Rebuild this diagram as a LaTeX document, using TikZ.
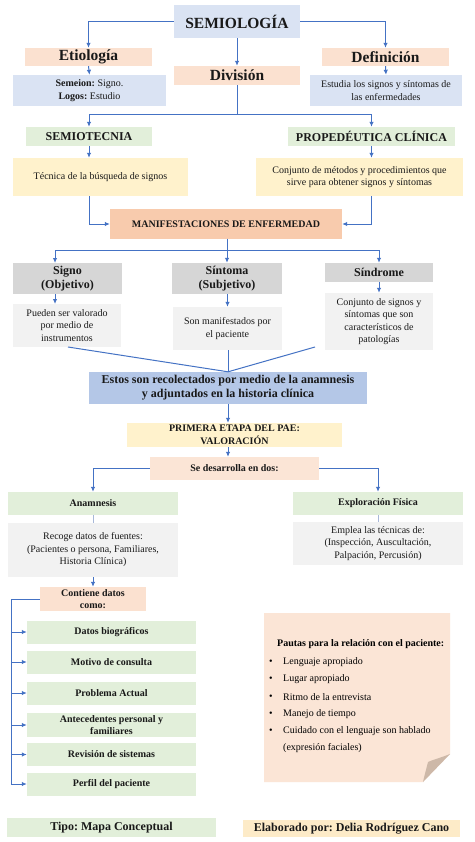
\documentclass[tikz,border=0pt]{standalone}
\usepackage{fontspec}
\setmainfont{Liberation Serif}
\usetikzlibrary{arrows.meta,calc}
\frenchspacing
\definecolor{cblue}{HTML}{DAE3F3}
\definecolor{cpeach}{HTML}{FBE1D0}
\definecolor{cpeachl}{HTML}{FBE5D6}
\definecolor{cgreen}{HTML}{E2EFDA}
\definecolor{cyellow}{HTML}{FFF2CC}
\definecolor{csalmon}{HTML}{F8CBAD}
\definecolor{cgray}{HTML}{D6D6D6}
\definecolor{cgrayl}{HTML}{F2F2F2}
\definecolor{cbluem}{HTML}{B4C7E7}
\definecolor{corange}{HTML}{FDEBC8}
\definecolor{arrowc}{HTML}{4472C4}
\definecolor{tickc}{HTML}{A8B8D8}
\definecolor{foldc}{HTML}{CDB8A8}
\tikzset{
  box/.style={inner sep=1pt, align=center, text=black!90},
  big/.style={font=\fontsize{15.5}{18}\selectfont\bfseries},
  mid/.style={font=\fontsize{12}{14}\selectfont\bfseries},
  sml/.style={font=\fontsize{10}{12.5}\selectfont\bfseries},
  txt/.style={font=\fontsize{10}{12.5}\selectfont},
  conn/.style={draw=arrowc, line width=1pt, -{Latex[length=5pt,width=4.5pt]}},
  plain/.style={draw=arrowc, line width=1pt},
  tick/.style={draw=tickc, line width=0.9pt},
}
\begin{document}
\begin{tikzpicture}[x=1pt,y=-1pt]
\useasboundingbox (0,0) rectangle (474,842);
\fill[white] (0,0) rectangle (474,842);

% top level
\node[box,big,fill=cblue,minimum width=126pt,minimum height=33pt] (sem) at (237,21.5) {SEMIOLOG\'IA};
\node[box,big,fill=cpeach,minimum width=127pt,minimum height=18pt] (eti) at (88.5,57) {Etiolog\'ia};
\node[box,big,fill=cpeach,minimum width=126pt,minimum height=19pt] (div) at (237,75.5) {Divisi\'on};
\node[box,big,fill=cpeach,minimum width=127pt,minimum height=18pt] (def) at (385.5,57) {Definici\'on};
\node[box,txt,fill=cblue,minimum width=153pt,minimum height=31pt] (seme) at (89.5,90.5) {\textbf{Semeion:} Signo.\\\textbf{Logos:} Estudio};
\node[box,txt,fill=cblue,minimum width=152pt,minimum height=31pt] (estu) at (386,90.5) {Estudia los signos y s\'intomas de\\las enfermedades};

\draw[conn] (sem.west) -| (eti.north);
\draw[conn] (sem.east) -| (def.north);
\draw[conn] (sem.south) -- (div.north);
\draw[conn] (eti.south) -- (seme.north);
\draw[conn] (def.south) -- (estu.north);

% division
\node[box,mid,fill=cgreen,minimum width=126pt,minimum height=19pt] (stec) at (89,136.5) {SEMIOTECNIA};
\node[box,mid,fill=cgreen,minimum width=167pt,minimum height=19pt] (prop) at (371.5,136.5) {PROPED\'EUTICA CL\'INICA};
\coordinate (dj) at (237,115);
\draw[plain] (div.south) -- (dj);
\draw[conn] (dj) -| (stec.north);
\draw[conn] (dj) -| (prop.north);

\node[box,txt,fill=cyellow,minimum width=175pt,minimum height=38pt] (tec) at (100.5,177) {T\'ecnica de la b\'usqueda de signos};
\node[box,txt,fill=cyellow,minimum width=207pt,minimum height=38pt] (conj) at (359.5,177) {Conjunto de m\'etodos y procedimientos que\\sirve para obtener signos y s\'intomas};
\draw[conn] (stec.south) -- (stec.south |- tec.north);
\draw[conn] (prop.south) -- (prop.south |- conj.north);

\node[box,sml,fill=csalmon,minimum width=232pt,minimum height=29pt] (man) at (226,224) {MANIFESTACIONES DE ENFERMEDAD};
\draw[conn] (stec.south |- tec.south) |- (man.west);
\draw[conn] (prop.south |- conj.south) |- (man.east);

% signo / sintoma / sindrome
\node[box,mid,fill=cgray,minimum width=109pt,minimum height=31pt] (sig) at (67.5,278.5) {Signo\\(Objetivo)};
\node[box,mid,fill=cgray,minimum width=110pt,minimum height=31pt] (sin) at (227,278.5) {S\'intoma\\(Subjetivo)};
\node[box,mid,fill=cgray,minimum width=108pt,minimum height=19pt] (snd) at (379,272.5) {S\'indrome};
\coordinate (mj) at (227,250);
\draw[plain] (man.south -| mj) -- (mj);
\draw[conn] (mj) -- (sin.north);
\draw[conn] (mj) -| (55,263);
\draw[conn] (mj) -| (snd.north);

\node[box,txt,fill=cgrayl,minimum width=108pt,minimum height=43pt] (pue) at (67,325.5) {Pueden ser valorado\\por medio de\\instrumentos};
\node[box,txt,fill=cgrayl,minimum width=109pt,minimum height=43pt] (son) at (227.5,328.5) {Son manifestados por\\el paciente};
\node[box,txt,fill=cgrayl,minimum width=108pt,minimum height=57pt] (cjs) at (379,321.5) {Conjunto de signos y\\s\'intomas que son\\caracter\'isticos de\\patolog\'ias};
\draw[conn] (55,294) -- (55,304);
\draw[conn] (sin.south -| son.north) -- (son.north);
\draw[conn] (snd.south) -- (cjs.north);

% converge
\node[box,mid,fill=cbluem,minimum width=278pt,minimum height=32pt] (est) at (228,388) {Estos son recolectados por medio de la anamnesis\\y adjuntados en la historia cl\'inica};
\coordinate (pl) at (68,347);
\coordinate (pr) at (315,347);
\draw[plain] (pl) -- (est.north);
\draw[plain] (pr) -- (est.north);
\draw[plain] (son.south -| est.north) -- (est.north);

\node[box,sml,fill=cyellow,minimum width=215pt,minimum height=24pt] (pri) at (234.5,435) {PRIMERA ETAPA DEL PAE:\\VALORACI\'ON};
\draw[conn] (est.south) -- (est.south |- pri.north);
\node[box,sml,fill=cpeachl,minimum width=169pt,minimum height=23pt] (des) at (234.5,468.5) {Se desarrolla en dos:};
\draw[conn] (est.south |- pri.south) -- (est.south |- des.north);

\node[box,sml,fill=cgreen,minimum width=170pt,minimum height=23pt] (ana) at (93,503.5) {Anamnesis};
\node[box,sml,fill=cgreen,minimum width=170pt,minimum height=23pt] (exp) at (378,503.5) {Exploraci\'on F\'isica};
\draw[conn] (des.west) -| (ana.north);
\draw[conn] (des.east) -| (exp.north);

\node[box,txt,fill=cgrayl,minimum width=170pt,minimum height=54pt] (rec) at (93,550) {Recoge datos de fuentes:\\(Pacientes o persona, Familiares,\\Historia Cl\'inica)};
\node[box,txt,fill=cgrayl,minimum width=170pt,minimum height=43pt] (emp) at (378,543.5) {Emplea las t\'ecnicas de:\\(Inspecci\'on, Auscultaci\'on,\\Palpaci\'on, Percusi\'on)};
\draw[tick] (ana.south) -- (rec.north);
\draw[tick] (exp.south) -- (emp.north);

\node[box,sml,fill=cpeach,minimum width=106pt,minimum height=24pt] (con) at (93,599) {Contiene datos\\como:};
\draw[conn] (rec.south) -- (con.north);

% items
\node[box,sml,fill=cgreen,minimum width=169pt,minimum height=23pt] (i1) at (111.5,632) {Datos biogr\'aficos};
\node[box,sml,fill=cgreen,minimum width=169pt,minimum height=23pt] (i2) at (111.5,662) {Motivo de consulta};
\node[box,sml,fill=cgreen,minimum width=169pt,minimum height=23pt] (i3) at (111.5,693) {Problema Actual};
\node[box,sml,fill=cgreen,minimum width=169pt,minimum height=24pt] (i4) at (111.5,725) {Antecedentes personal y\\familiares};
\node[box,sml,fill=cgreen,minimum width=169pt,minimum height=23pt] (i5) at (111.5,754.5) {Revisi\'on de sistemas};
\node[box,sml,fill=cgreen,minimum width=169pt,minimum height=23pt] (i6) at (111.5,784) {Perfil del paciente};
\coordinate (cl) at (11,599);
\draw[plain] (con.west) -- (cl) -- (cl |- i6.west);
\foreach \n in {i1,i2,i3,i4,i5,i6} \draw[conn] (cl |- \n.west) -- (\n.west);

% note
\fill[cpeachl] (264,613) -- (450,613) -- (450,754) -- (423,782) -- (264,782) -- cycle;
\fill[foldc] (450,754) .. controls (440,758) and (432,760) .. (428,762) .. controls (426,770) and (424,777) .. (423,782) -- cycle;
\node[anchor=west,sml,inner sep=0] (pt) at (277,644) {Pautas para la relaci\'on con el paciente:};
\foreach \y/\t [count=\k] in {662/Lenguaje apropiado,679/Lugar apropiado,697/Ritmo de la entrevista,714/Manejo de tiempo,731/Cuidado con el lenguaje son hablado}{
  \node[anchor=west,txt,inner sep=0] (b\k) at (269,\y) {\textbullet};
  \node[anchor=west,txt,inner sep=0] (t\k) at (283,\y) {\t};
}
\node[anchor=west,txt,inner sep=0] (t6) at (283,748) {(expresi\'on faciales)};

% footer
\node[box,mid,fill=cgreen,minimum width=209pt,minimum height=19pt] (tipo) at (111.5,827.5) {Tipo: Mapa Conceptual};
\node[box,mid,fill=corange,minimum width=217pt,minimum height=17pt] (ela) at (351.5,828.5) {Elaborado por: Delia Rodr\'iguez Cano};
\end{tikzpicture}
\end{document}
